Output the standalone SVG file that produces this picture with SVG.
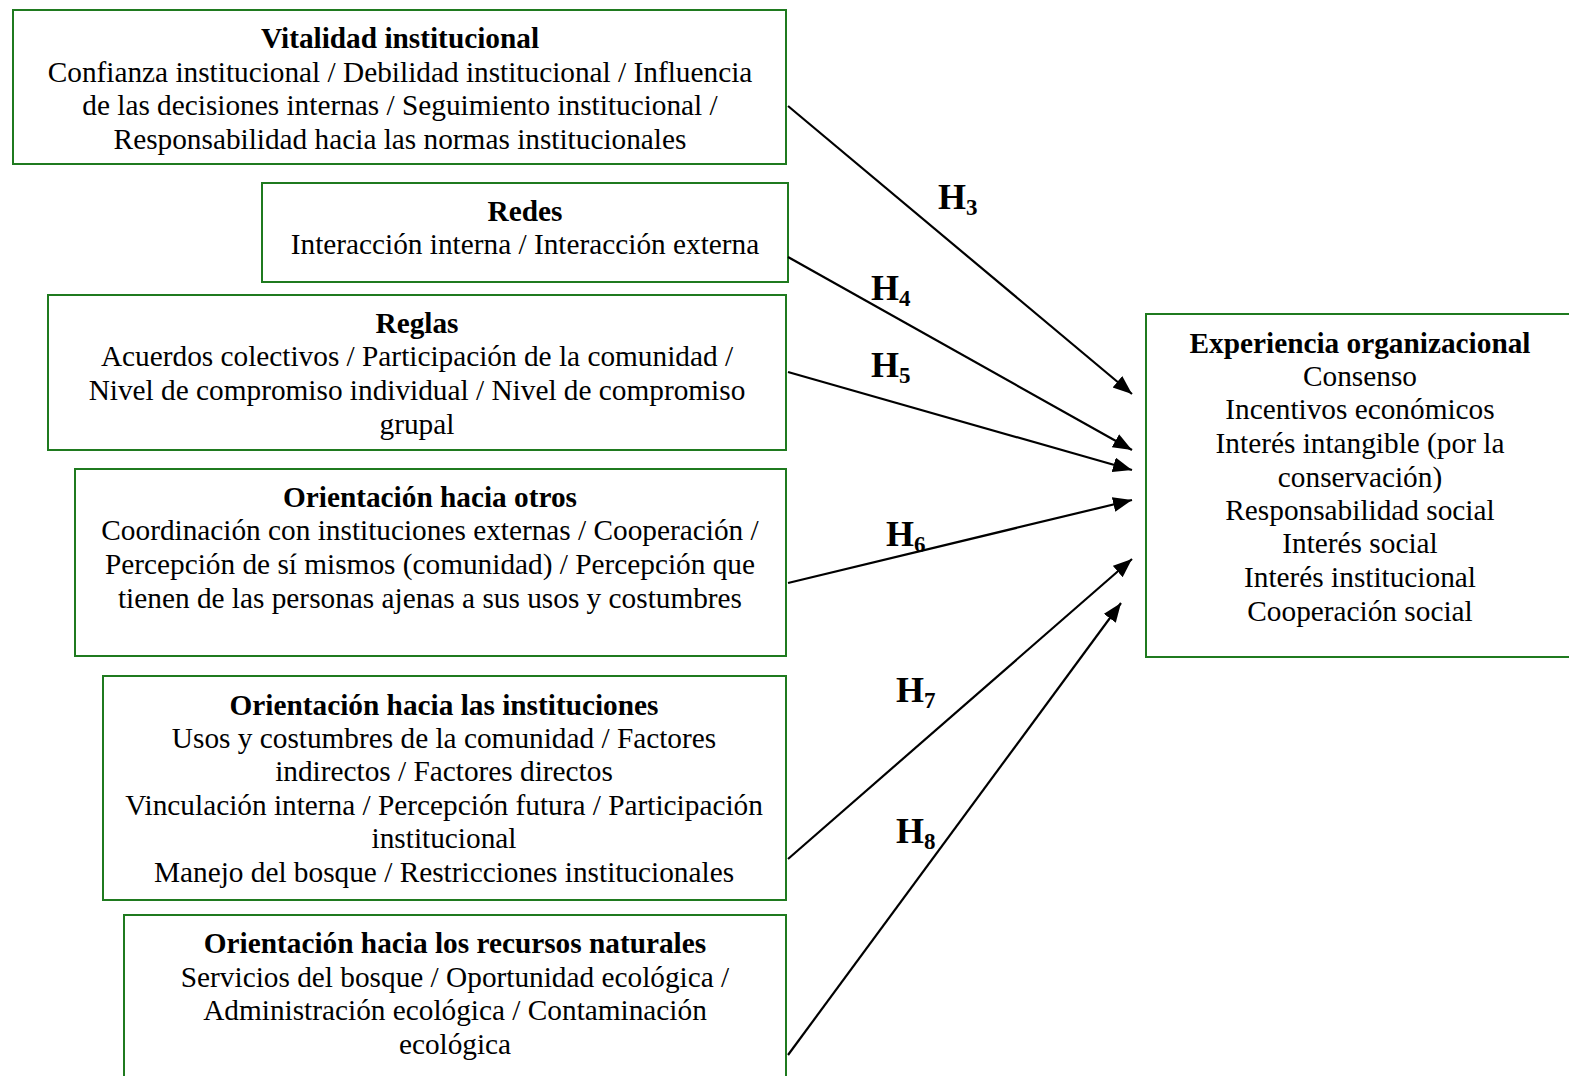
<svg xmlns="http://www.w3.org/2000/svg" width="1569" height="1076" viewBox="0 0 1569 1076">
<style>
.box{fill:#fff;stroke:#1f7a1f;stroke-width:2}
text{font-family:"Liberation Serif","Times New Roman",serif;font-size:29.3px;fill:#000;text-anchor:middle}
.t{font-weight:bold}
.h{font-weight:bold;font-size:36px;text-anchor:start}
.s{font-size:23px}
.c{stroke:#000;stroke-width:2.2;fill:none;marker-end:url(#ah)}
</style>
<defs>
<marker id="ah" markerUnits="userSpaceOnUse" markerWidth="20" markerHeight="16" refX="19" refY="7.5" orient="auto">
<path d="M0,0 L19,7.5 L0,15 z" fill="#000"/>
</marker>
</defs>
<rect width="1569" height="1076" fill="#fff"/>
<g id="n1">
<rect class="box" x="13" y="10" width="773" height="154"/>
<text class="t" x="400" y="48">Vitalidad institucional</text>
<text x="400" y="82">Confianza institucional / Debilidad institucional / Influencia</text>
<text x="400" y="115">de las decisiones internas / Seguimiento institucional /</text>
<text x="400" y="149">Responsabilidad hacia las normas institucionales</text>
</g>
<g id="n2">
<rect class="box" x="262" y="183" width="526" height="99"/>
<text class="t" x="525" y="221">Redes</text>
<text x="525" y="254">Interacción interna / Interacción externa</text>
</g>
<g id="n3">
<rect class="box" x="48" y="295" width="738" height="155"/>
<text class="t" x="417" y="333">Reglas</text>
<text x="417" y="366">Acuerdos colectivos / Participación de la comunidad /</text>
<text x="417" y="400">Nivel de compromiso individual / Nivel de compromiso</text>
<text x="417" y="434">grupal</text>
</g>
<g id="n4">
<rect class="box" x="75" y="469" width="711" height="187"/>
<text class="t" x="430" y="507">Orientación hacia otros</text>
<text x="430" y="540">Coordinación con instituciones externas / Cooperación /</text>
<text x="430" y="574">Percepción de sí mismos (comunidad) / Percepción que</text>
<text x="430" y="608">tienen de las personas ajenas a sus usos y costumbres</text>
</g>
<g id="n5">
<rect class="box" x="103" y="676" width="683" height="224"/>
<text class="t" x="444" y="715">Orientación hacia las instituciones</text>
<text x="444" y="748">Usos y costumbres de la comunidad / Factores</text>
<text x="444" y="781">indirectos / Factores directos</text>
<text x="444" y="815">Vinculación interna / Percepción futura / Participación</text>
<text x="444" y="848">institucional</text>
<text x="444" y="882">Manejo del bosque / Restricciones institucionales</text>
</g>
<g id="n6">
<rect class="box" x="124" y="915" width="662" height="170"/>
<text class="t" x="455" y="953">Orientación hacia los recursos naturales</text>
<text x="455" y="987">Servicios del bosque / Oportunidad ecológica /</text>
<text x="455" y="1020">Administración ecológica / Contaminación</text>
<text x="455" y="1054">ecológica</text>
</g>
<g id="n7">
<rect class="box" x="1146" y="314" width="430" height="343"/>
<text class="t" x="1360" y="353">Experiencia organizacional</text>
<text x="1360" y="386">Consenso</text>
<text x="1360" y="419">Incentivos económicos</text>
<text x="1360" y="453">Interés intangible (por la</text>
<text x="1360" y="487">conservación)</text>
<text x="1360" y="520">Responsabilidad social</text>
<text x="1360" y="553">Interés social</text>
<text x="1360" y="587">Interés institucional</text>
<text x="1360" y="621">Cooperación social</text>
</g>
<g id="connectors">
<line class="c" x1="788" y1="106" x2="1132" y2="394"/>
<line class="c" x1="788" y1="257" x2="1132" y2="450"/>
<line class="c" x1="788" y1="372" x2="1132" y2="470"/>
<line class="c" x1="788" y1="583" x2="1132" y2="500"/>
<line class="c" x1="788" y1="859" x2="1132" y2="559"/>
<line class="c" x1="788" y1="1055" x2="1121" y2="603"/>
<text class="h" x="938" y="209">H<tspan class="s" dy="6">3</tspan></text>
<text class="h" x="871" y="300">H<tspan class="s" dy="6">4</tspan></text>
<text class="h" x="871" y="377">H<tspan class="s" dy="6">5</tspan></text>
<text class="h" x="886" y="546">H<tspan class="s" dy="6">6</tspan></text>
<text class="h" x="896" y="702">H<tspan class="s" dy="6">7</tspan></text>
<text class="h" x="896" y="843">H<tspan class="s" dy="6">8</tspan></text>
</g>
</svg>
